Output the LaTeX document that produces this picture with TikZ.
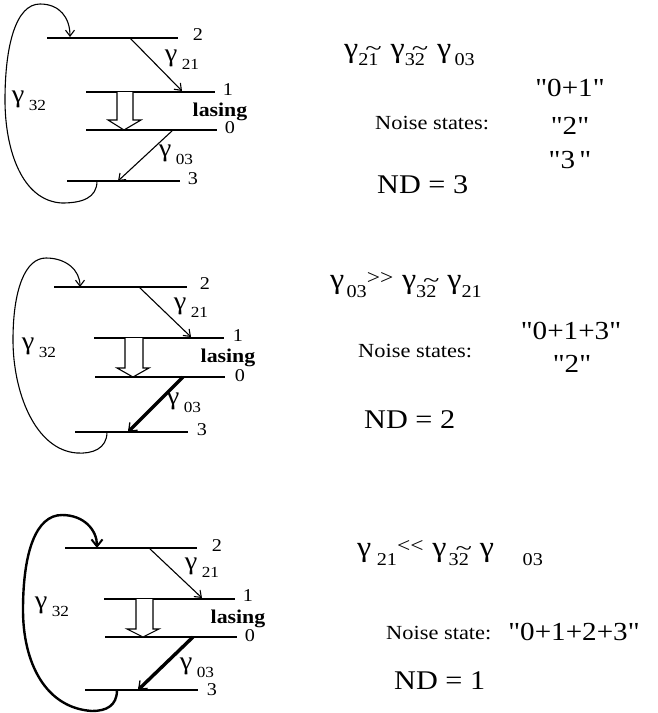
\documentclass[tikz,border=0pt]{standalone}
\usepackage{fontspec}
\usepackage{graphicx}
\setmainfont{Liberation Serif}[FakeStretch=1.12]
\newfontfamily\qfont{Liberation Serif}[FakeStretch=1.12]
\usetikzlibrary{arrows.meta}
% diagram labels
\newcommand\gm[1]{\scalebox{1.15}{γ}\kern0.2em\raisebox{-0.36em}{\scalebox{0.7}{#1}}}
% relation text
\newcommand\gamR{\scalebox{1.3}{γ}}
\newcommand\gsb[1]{\raisebox{-0.4em}{\scalebox{0.82}{#1}}}
\newcommand\tld[1]{\ooalign{#1\cr\hidewidth\raisebox{0.58em}{\scalebox{1.5}[1.2]{\textasciitilde}}\hidewidth}}
\newcommand\cmp[1]{{\fontsize{21}{21}\selectfont\raisebox{0.5ex}{#1}}}
\begin{document}
\begin{tikzpicture}[x=1pt,y=-1pt,
  lev/.style={line width=1.1pt},
  tip/.style={-{Straight Barb[length=6pt,width=9pt,line width=1.1pt]}},
  thin/.style={line width=1.1pt, tip},
  thk/.style={line width=3.4pt,-{Straight Barb[length=7pt,width=11pt,line width=1.3pt]}},
  loopthin/.style={line width=1.1pt,-{Straight Barb[length=6pt,width=9pt,line width=1.1pt]}},
  loopthk/.style={line width=2.4pt,-{Straight Barb[length=7pt,width=11pt,line width=2pt]}},
  hol/.style={line width=1.1pt, fill=white},
  lab/.style={inner sep=0pt, font=\fontsize{18}{18}\selectfont},
  gl/.style={inner sep=0pt, font=\qfont\fontsize{22}{22}\selectfont},
  las/.style={inner sep=0pt, font=\fontsize{19.5}{20}\selectfont\bfseries},
  rel/.style={inner sep=0pt, anchor=west, font=\qfont\fontsize{22}{22}\selectfont},
  noise/.style={inner sep=0pt, anchor=west, font=\fontsize{20}{20}\selectfont},
  st/.style={inner sep=0pt, font=\qfont\fontsize{26}{26}\selectfont},
  nd/.style={inner sep=0pt, anchor=west, font=\fontsize{27}{27}\selectfont}]
\useasboundingbox (0,0) rectangle (658,713);

% ================= Panel 1 =================
\coordinate (a2l) at (47,38);  \coordinate (a2r) at (178,38);
\coordinate (a1l) at (86,92);  \coordinate (a1r) at (215,92);
\coordinate (a0l) at (86,130); \coordinate (a0r) at (217,130);
\coordinate (a3l) at (67,181); \coordinate (a3r) at (180,181);
\draw[lev] (a2l) -- (a2r);
\draw[lev] (a1l) -- (a1r);
\draw[lev] (a0l) -- (a0r);
\draw[lev] (a3l) -- (a3r);
\coordinate (a21s) at (130,38); \coordinate (a21e) at (182,91);
\draw[thin] (a21s) -- (a21e);
\coordinate (a03s) at (173,130); \coordinate (a03e) at (118,181);
\draw[thin] (a03s) -- (a03e);
\draw[hol] (117,92) -- (117,120) -- (108,120) -- (124,130) -- (141,120) -- (133,120) -- (133,92);
\coordinate (a32s) at (97,181); \coordinate (a32e) at (70,37);
\draw[loopthin] (a32s) .. controls (97,198) and (82,203) .. (62,203)
  .. controls (22,201) and (5,150) .. (5,100)
  .. controls (5,45) and (16,4) .. (40,4)
  .. controls (60,4) and (70,18) .. (a32e);
\node[lab] (a2n) at (198,35) {2};
\node[lab] (a1n) at (228,90) {1};
\node[lab] (a0n) at (230,128) {0};
\node[lab] (a3n) at (193,179) {3};
\node[las] (alas) at (220,112) {lasing};
\node[gl] (ag21) at (182,60) {\gm{21}};
\node[gl] (ag03) at (176,155) {\gm{03}};
\node[gl] (ag32) at (29,101) {\gm{32}};
\node[rel] (arel) at (344,55) {\gamR\gsb{2\tld{1}}\kern0.55em \gamR\gsb{3\tld{2}}\kern0.55em \gamR\kern0.15em\gsb{03}};
\node[st] (as1) at (570,88) {"0+1"};
\node[st] (as2) at (570,126) {"2"};
\node[st] (as3) at (570,160) {"3\,"};
\node[noise] (anoise) at (375,123) {Noise states:};
\node[nd] (and) at (377,185) {ND = 3};

% ================= Panel 2 =================
\coordinate (b2l) at (54,287);  \coordinate (b2r) at (187,287);
\coordinate (b1l) at (94,338);  \coordinate (b1r) at (224,338);
\coordinate (b0l) at (95,377);  \coordinate (b0r) at (225,377);
\coordinate (b3l) at (75,432);  \coordinate (b3r) at (188,432);
\draw[lev] (b2l) -- (b2r);
\draw[lev] (b1l) -- (b1r);
\draw[lev] (b0l) -- (b0r);
\draw[lev] (b3l) -- (b3r);
\coordinate (b21s) at (139,287); \coordinate (b21e) at (191,337);
\draw[thin] (b21s) -- (b21e);
\coordinate (b03s) at (183,377); \coordinate (b03e) at (128,432);
\draw[thk] (b03s) -- (b03e);
\draw[hol] (125,338) -- (125,368) -- (117,368) -- (133,377) -- (149,368) -- (143,368) -- (143,338);
\coordinate (b32s) at (107,432); \coordinate (b32e) at (80,287);
\draw[loopthin] (b32s) .. controls (107,449) and (92,454) .. (77,453)
  .. controls (35,450) and (13,392) .. (13,340)
  .. controls (13,290) and (25,258) .. (46,258)
  .. controls (66,258) and (80,270) .. (b32e);
\node[lab] (b2n) at (205,284) {2};
\node[lab] (b1n) at (238,336) {1};
\node[lab] (b0n) at (240,376) {0};
\node[lab] (b3n) at (202,430) {3};
\node[las] (blas) at (228,358) {lasing};
\node[gl] (bg21) at (191,308) {\gm{21}};
\node[gl] (bg03) at (184,403) {\gm{03}};
\node[gl] (bg32) at (39,348) {\gm{32}};
\node[rel] (brel) at (330,285) {\gamR\kern0.1em\gsb{03}\cmp{>>}\kern0.4em \gamR\gsb{3\tld{2}}\kern0.5em \gamR\gsb{21}};
\node[st] (bs1) at (571,331) {"0+1+3"};
\node[st] (bs2) at (572,364) {"2"};
\node[noise] (bnoise) at (358,351) {Noise states:};
\node[nd] (bnd) at (364,420) {ND = 2};

% ================= Panel 3 =================
\coordinate (c2l) at (65,548);  \coordinate (c2r) at (197,548);
\coordinate (c1l) at (104,599); \coordinate (c1r) at (235,599);
\coordinate (c0l) at (105,637); \coordinate (c0r) at (237,637);
\coordinate (c3l) at (85,690);  \coordinate (c3r) at (198,690);
\draw[lev] (c2l) -- (c2r);
\draw[lev] (c1l) -- (c1r);
\draw[lev] (c0l) -- (c0r);
\draw[lev] (c3l) -- (c3r);
\coordinate (c21s) at (149,548); \coordinate (c21e) at (202,598);
\draw[thin] (c21s) -- (c21e);
\coordinate (c03s) at (193,637); \coordinate (c03e) at (138,690);
\draw[thk] (c03s) -- (c03e);
\draw[hol] (136,599) -- (136,629) -- (127,629) -- (143,637) -- (159,629) -- (153,629) -- (153,599);
\coordinate (c32s) at (117,690); \coordinate (c32e) at (97,548);
\draw[loopthk] (c32s) .. controls (117,706) and (106,711) .. (92,711)
  .. controls (45,708) and (23,662) .. (23,610)
  .. controls (23,552) and (36,515) .. (62,515)
  .. controls (84,515) and (97,530) .. (c32e);
\node[lab] (c2n) at (217,546) {2};
\node[lab] (c1n) at (248,596) {1};
\node[lab] (c0n) at (250,636) {0};
\node[lab] (c3n) at (212,690) {3};
\node[las] (clas) at (238,619) {lasing};
\node[gl] (cg21) at (202,568) {\gm{21}};
\node[gl] (cg03) at (197,668) {\gm{03}};
\node[gl] (cg32) at (52,607) {\gm{32}};
\node[rel] (crel) at (357,553) {\gamR\kern0.25em\gsb{21}\cmp{<<}\kern0.4em \gamR\kern0.1em\gsb{3\tld{2}}\kern0.5em \gamR\kern1.3em\gsb{03}};
\node[noise] (cnoise) at (386,633) {Noise state:};
\node[st] (cs1) at (574,632) {"0+1+2+3"};
\node[nd] (cnd) at (394,681) {ND = 1};
\end{tikzpicture}
\end{document}
